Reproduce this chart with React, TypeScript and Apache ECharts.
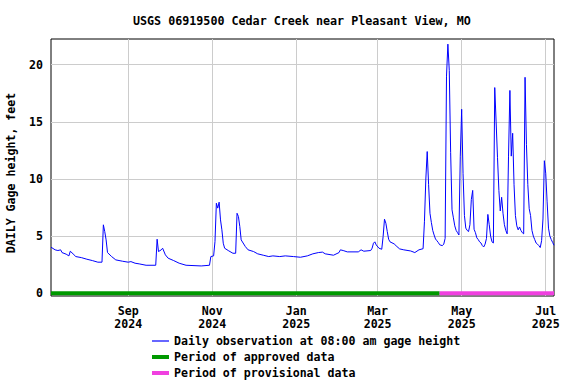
import React, { useEffect, useRef } from "react";
import * as echarts from "echarts";

const TITLE = "USGS 06919500 Cedar Creek near Pleasant View, MO";
const Y_NAME = "DAILY Gage height, feet";
const SERIES_OBS = "Daily observation at 08:00 am gage height";
const SERIES_APPROVED = "Period of approved data";
const SERIES_PROVISIONAL = "Period of provisional data";

const RANGE_START = "2024-07-07";
const RANGE_END = "2025-07-07";
const PROVISIONAL_START = "2025-04-15";

const xTickDates = ["2024-09-01", "2024-11-01", "2025-01-01", "2025-03-01", "2025-05-01", "2025-07-01"];
const yTickValues = [0, 5, 10, 15, 20];
const monthNames = ["Jan", "Feb", "Mar", "Apr", "May", "Jun", "Jul", "Aug", "Sep", "Oct", "Nov", "Dec"];

const obsDates = [
  "2024-07-07", "2024-07-10", "2024-07-12", "2024-07-14", "2024-07-15", "2024-07-18", "2024-07-20", "2024-07-21",
  "2024-07-23", "2024-07-25", "2024-07-29", "2024-08-02", "2024-08-06", "2024-08-10", "2024-08-13", "2024-08-14",
  "2024-08-15", "2024-08-16", "2024-08-17", "2024-08-20", "2024-08-23", "2024-08-28", "2024-09-01", "2024-09-03",
  "2024-09-06", "2024-09-09", "2024-09-14", "2024-09-21", "2024-09-22", "2024-09-23", "2024-09-25", "2024-09-26",
  "2024-09-28", "2024-09-30", "2024-10-04", "2024-10-08", "2024-10-13", "2024-10-24", "2024-10-30", "2024-10-31",
  "2024-11-02", "2024-11-03", "2024-11-04", "2024-11-05", "2024-11-06", "2024-11-07", "2024-11-08", "2024-11-09",
  "2024-11-10", "2024-11-13", "2024-11-16", "2024-11-18", "2024-11-19", "2024-11-20", "2024-11-21", "2024-11-22",
  "2024-11-25", "2024-11-27", "2024-12-01", "2024-12-04", "2024-12-08", "2024-12-12", "2024-12-15", "2024-12-20",
  "2024-12-24", "2024-12-30", "2025-01-04", "2025-01-09", "2025-01-13", "2025-01-17", "2025-01-20", "2025-01-22",
  "2025-01-28", "2025-02-01", "2025-02-02", "2025-02-04", "2025-02-07", "2025-02-15", "2025-02-17", "2025-02-19",
  "2025-02-24", "2025-02-25", "2025-02-26", "2025-02-27", "2025-02-28", "2025-03-02", "2025-03-04", "2025-03-05",
  "2025-03-06", "2025-03-07", "2025-03-08", "2025-03-09", "2025-03-10", "2025-03-13", "2025-03-15", "2025-03-17",
  "2025-03-20", "2025-03-25", "2025-03-28", "2025-03-31", "2025-04-03", "2025-04-04", "2025-04-05", "2025-04-06",
  "2025-04-07", "2025-04-08", "2025-04-09", "2025-04-10", "2025-04-11", "2025-04-12", "2025-04-13", "2025-04-14",
  "2025-04-15", "2025-04-16", "2025-04-17", "2025-04-18", "2025-04-19", "2025-04-20", "2025-04-21", "2025-04-22",
  "2025-04-23", "2025-04-24", "2025-04-25", "2025-04-26", "2025-04-27", "2025-04-28", "2025-04-29", "2025-04-30",
  "2025-05-01", "2025-05-02", "2025-05-03", "2025-05-04", "2025-05-05", "2025-05-06", "2025-05-07", "2025-05-08",
  "2025-05-09", "2025-05-10", "2025-05-11", "2025-05-12", "2025-05-13", "2025-05-14", "2025-05-15", "2025-05-16",
  "2025-05-17", "2025-05-18", "2025-05-19", "2025-05-20", "2025-05-21", "2025-05-22", "2025-05-23", "2025-05-24",
  "2025-05-25", "2025-05-26", "2025-05-27", "2025-05-28", "2025-05-29", "2025-05-30", "2025-05-31", "2025-06-01",
  "2025-06-02", "2025-06-03", "2025-06-04", "2025-06-05", "2025-06-06", "2025-06-07", "2025-06-08", "2025-06-09",
  "2025-06-10", "2025-06-11", "2025-06-12", "2025-06-13", "2025-06-14", "2025-06-15", "2025-06-16", "2025-06-17",
  "2025-06-18", "2025-06-19", "2025-06-20", "2025-06-21", "2025-06-22", "2025-06-23", "2025-06-24", "2025-06-25",
  "2025-06-26", "2025-06-27", "2025-06-28", "2025-06-29", "2025-06-30", "2025-07-01", "2025-07-02", "2025-07-03",
  "2025-07-04", "2025-07-05", "2025-07-06", "2025-07-07",
];

const obsValues = [
  4.03, 3.8, 3.74, 3.8, 3.56, 3.42, 3.27, 3.68,
  3.45, 3.21, 3.12, 2.98, 2.86, 2.72, 2.72, 5.99,
  5.4, 4.67, 3.56, 3.21, 2.92, 2.8, 2.72, 2.77,
  2.63, 2.57, 2.45, 2.45, 4.73, 3.65, 3.8, 3.94,
  3.36, 3.07, 2.86, 2.63, 2.45, 2.39, 2.45, 3.21,
  3.27, 4.53, 7.88, 7.45, 7.97, 6.42, 5.55, 4.38,
  3.94, 3.71, 3.5, 3.5, 7.0, 6.72, 5.84, 4.67,
  4.09, 3.8, 3.65, 3.45, 3.33, 3.21, 3.27, 3.21,
  3.27, 3.21, 3.15, 3.27, 3.45, 3.56, 3.6, 3.45,
  3.33, 3.56, 3.8, 3.74, 3.62, 3.62, 3.8, 3.68,
  3.74, 3.94, 4.38, 4.5, 4.23, 3.94, 3.85, 4.96,
  6.48, 6.13, 5.4, 4.73, 4.5, 4.32, 4.09, 3.88,
  3.8, 3.7, 3.56, 3.8, 3.9, 6.3, 10.0, 12.4,
  9.5, 7.0, 6.2, 5.5, 5.1, 4.75, 4.6, 4.45,
  4.25, 4.2, 4.17, 4.3, 4.8, 19.0, 21.8, 19.5,
  12.3, 7.3, 6.6, 5.9, 5.5, 5.3, 5.1, 12.0,
  16.1, 10.5, 6.8, 5.7, 5.5, 5.4, 6.0, 8.2,
  9.0, 5.6, 5.3, 4.85, 4.7, 4.5, 4.4, 4.17,
  4.05, 4.3, 4.8, 6.9, 6.0, 5.0, 4.5, 4.4,
  18.0, 15.0, 11.9, 9.0, 7.2, 8.4, 7.0, 6.0,
  5.5, 5.2, 12.0, 17.75, 12.0, 14.0, 9.5, 6.8,
  5.9, 5.55, 5.8, 5.5, 5.3, 5.2, 18.9, 13.0,
  9.5, 7.4, 6.8, 5.5, 5.0, 4.7, 4.4, 4.3,
  4.17, 4.0, 4.6, 6.5, 11.6, 10.5, 8.0, 5.7,
  5.0, 4.7, 4.45, 4.2,
];

const FONT = "'DejaVu Sans Mono', 'Liberation Mono', monospace";

export default function App() {
  const ref = useRef<HTMLDivElement>(null);

  useEffect(() => {
    if (!ref.current) return;
    const chart = echarts.init(ref.current, undefined, { renderer: "svg" });
    const t = (d: string) => Date.parse(d);
    const textStyle = { fontFamily: FONT, fontSize: 11.6, fontWeight: "bold" as const, color: "#000" };

    chart.setOption({
      animation: false,
      backgroundColor: "#fff",
      title: {
        text: TITLE,
        left: 133,
        top: 14,
        padding: 0,
        textStyle: { ...textStyle, fontSize: 11.7, lineHeight: 14 },
      },
      grid: {
        left: 51,
        right: 22,
        top: 39,
        bottom: 88,
        show: true,
        borderColor: "#000",
        borderWidth: 1,
        backgroundColor: "transparent",
      },
      legend: {
        orient: "vertical",
        left: 150,
        top: 334,
        itemWidth: 17,
        itemHeight: 14,
        itemGap: 2,
        padding: 0,
        itemStyle: { color: "transparent", borderWidth: 0, opacity: 0 },
        textStyle: { ...textStyle, lineHeight: 14 },
        data: [
          { name: SERIES_OBS, lineStyle: { width: 1.2 } },
          { name: SERIES_APPROVED, lineStyle: { width: 4 } },
          { name: SERIES_PROVISIONAL, lineStyle: { width: 4 } },
        ],
      },
      xAxis: {
        type: "value",
        min: t(RANGE_START),
        max: t(RANGE_END),
        axisLine: { show: false },
        axisTick: { show: false, customValues: xTickDates.map(t) },
        axisLabel: {
          customValues: xTickDates.map(t),
          margin: 8,
          ...textStyle,
          lineHeight: 13,
          formatter: (v: number) => {
            const d = new Date(v);
            return monthNames[d.getUTCMonth()] + "\n" + d.getUTCFullYear();
          },
        },
        splitLine: { show: true, lineStyle: { color: "#cccccc", width: 1 } },
      },
      yAxis: {
        type: "value",
        min: -0.24,
        max: 22.25,
        axisLine: { show: false },
        axisTick: { show: false, customValues: yTickValues },
        axisLabel: { customValues: yTickValues, margin: 8, ...textStyle },
        splitLine: { show: true, lineStyle: { color: "#cccccc", width: 1 } },
      },
      graphic: [
        {
          type: "text",
          x: 11,
          y: 173,
          rotation: Math.PI / 2,
          style: {
            text: Y_NAME,
            font: `bold 11.6px ${FONT}`,
            fill: "#000",
            align: "center",
            verticalAlign: "middle",
          },
        },
      ],
      series: [
        {
          name: SERIES_APPROVED,
          type: "line",
          showSymbol: false,
          symbol: "none",
          color: "#009900",
          lineStyle: { color: "#009900", width: 4 },
          data: [
            [t(RANGE_START), 0],
            [t(PROVISIONAL_START), 0],
          ],
          z: 2,
        },
        {
          name: SERIES_PROVISIONAL,
          type: "line",
          showSymbol: false,
          symbol: "none",
          color: "#f040e0",
          lineStyle: { color: "#f040e0", width: 4 },
          data: [
            [t(PROVISIONAL_START), 0],
            [t(RANGE_END), 0],
          ],
          z: 2,
        },
        {
          name: SERIES_OBS,
          type: "line",
          showSymbol: false,
          symbol: "none",
          color: "#0000ff",
          lineStyle: { color: "#0000ff", width: 1 },
          data: obsDates.map((d, i) => [t(d), obsValues[i]]),
          z: 3,
        },
      ],
    });

    return () => chart.dispose();
  }, []);

  return (
    <div
      ref={ref}
      style={{ position: "fixed", left: 0, top: 0, width: 576, height: 384, background: "#fff" }}
    />
  );
}
